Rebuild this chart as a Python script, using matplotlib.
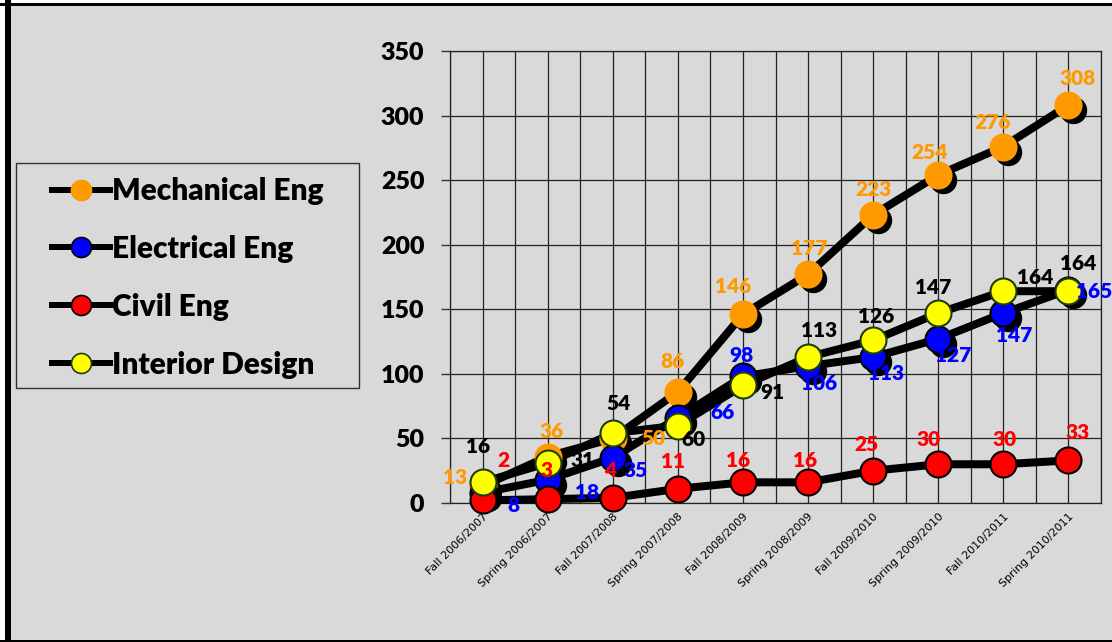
import numpy as np
import matplotlib
matplotlib.use("Agg")
import matplotlib.pyplot as plt
from matplotlib.lines import Line2D
from matplotlib.patches import Rectangle
from matplotlib import transforms

plt.rcParams['font.family'] = ['Lato', 'DejaVu Sans']

terms = ['Fall 2006/2007', 'Spring 2006/2007', 'Fall 2007/2008', 'Spring 2007/2008',
         'Fall 2008/2009', 'Spring 2008/2009', 'Fall 2009/2010', 'Spring 2009/2010',
         'Fall 2010/2011', 'Spring 2010/2011']
mechanical = [13, 36, 50, 86, 146, 177, 223, 254, 276, 308]
electrical = [8, 18, 35, 66, 98, 106, 113, 127, 147, 165]
civil = [2, 3, 4, 11, 16, 16, 25, 30, 30, 33]
interior = [16, 31, 54, 60, 91, 113, 126, 147, 164, 164]
names = ['Mechanical Eng', 'Electrical Eng', 'Civil Eng', 'Interior Design']
yticks = [0, 50, 100, 150, 200, 250, 300, 350]

# label offsets in pixels (dx right, dy up) from each point
mech_off = [(-27, 9), (4, 25), (41, 0), (-5, 30), (-10, 28), (1, 26), (0, 26), (-9, 22), (-11, 24), (9, 27)]
elec_off = [(31, -13), (39, -13), (23, -13), (45, 5), (-1, 21), (11, -17), (13, -16), (15, -17), (11, -22), (26, -2)]
civil_off = [(21, 40), (-1, 29), (-3, 27), (-5, 27), (-5, 22), (-3, 22), (-7, 26), (-10, 25), (1, 25), (9, 28)]
int_off = [(-4, 36), (35, 2), (6, 30), (16, -14), (29, -7), (11, 27), (3, 24), (-5, 26), (32, 14), (10, 28)]

W, H = 1112, 642
bg = '#d9d9d9'
heavy = 'heavy'
fig = plt.figure(figsize=(W / 100, H / 100), dpi=100, facecolor='white')

# grey panel with thick black frame
fig.patches.append(Rectangle((8 / W, 1 - 640 / H), 1.1, (640 - 3) / H, transform=fig.transFigure,
                             facecolor=bg, edgecolor='none', zorder=-5))
fig.add_artist(Line2D([8 / W, 8 / W], [0, 1], transform=fig.transFigure, color='k', lw=6 * 0.72))
fig.add_artist(Line2D([0, 1], [1 - 3.5 / H, 1 - 3.5 / H], transform=fig.transFigure, color='k', lw=3 * 0.72))
fig.add_artist(Line2D([0, 1], [1 - 640.5 / H, 1 - 640.5 / H], transform=fig.transFigure, color='k', lw=3 * 0.72))

ax = fig.add_axes([450 / W, (H - 503) / H, (1101 - 450) / W, (503 - 51) / H])
ax.set_facecolor(bg)

x = np.arange(len(terms))
series = [
    (mechanical, '#ff9900', '#ff9900', '#ff9900', mech_off, True),
    (electrical, '#0000ff', 'black', '#0000ff', elec_off, True),
    (civil, '#ff0000', 'black', '#ff0000', civil_off, False),
    (interior, '#ffff00', '#1e3d0a', 'black', int_off, False),
]

shadow_tr = transforms.offset_copy(ax.transData, fig=fig, x=5, y=-5, units='dots')
ms = 26 * 0.72

for vals, fc, ec, tc, offs, shadow in series:
    ax.plot(x, vals, color='black', lw=8 * 0.72, solid_capstyle='round',
            solid_joinstyle='round', zorder=3, clip_on=False)

for i, (vals, fc, ec, tc, offs, shadow) in enumerate(series):
    if shadow:
        ax.plot(x, vals, ls='none', marker='o', ms=ms, mfc='black', mec='black',
                transform=shadow_tr, zorder=4 + i, clip_on=False)
    ax.plot(x, vals, ls='none', marker='o', ms=ms, mfc=fc, mec=ec, mew=1.5,
            zorder=4.5 + i, clip_on=False)
    for xi, v, (dx, dy) in zip(x, vals, offs):
        ax.annotate(str(v), (xi, v), xytext=(dx, dy), textcoords='offset pixels',
                    ha='center', va='center', fontsize=15, fontweight=heavy,
                    color=tc, zorder=20, annotation_clip=False)

ax.set_xlim(-0.5, len(terms) - 0.5)
ax.set_ylim(0, 350)
ax.set_yticks(yticks, labels=[str(t) for t in yticks], fontsize=18, fontweight=heavy)
ax.set_xticks(x, labels=terms, rotation=45, ha='right', va='top', rotation_mode='anchor',
              fontsize=8, family='DejaVu Sans')
ax.set_xticks(np.arange(-0.5, len(terms), 1), minor=True)
shift = transforms.ScaledTranslation(12 / 100, 0, fig.dpi_scale_trans)
for lab in ax.get_xticklabels():
    lab.set_transform(lab.get_transform() + shift)
ax.tick_params(axis='x', which='both', length=0, pad=6)
ax.tick_params(axis='y', length=6.5, width=1, color='#333333', pad=12)

ax.grid(True, axis='x', which='both', color='#222222', lw=0.9)
ax.grid(True, axis='y', which='major', color='#222222', lw=0.9)
ax.set_axisbelow(True)
for s in ax.spines.values():
    s.set_color('#222222')
    s.set_linewidth(0.9)

# legend
handles = []
for vals, fc, ec, tc, offs, shadow in series:
    handles.append(Line2D([], [], color='black', lw=6 * 0.72, marker='o', ms=20 * 0.72,
                          mfc=fc, mec=ec, mew=1.2))
fig.legend(handles, names, loc='upper left', bbox_to_anchor=(52 / W, 1 - 177 / H),
           frameon=False, prop={'size': 21.5, 'weight': heavy}, handlelength=1.94,
           handletextpad=0.08, labelspacing=1.0, borderpad=0, borderaxespad=0)
fig.patches.append(Rectangle((16 / W, 1 - 388 / H), (359 - 16) / W, (388 - 163) / H,
                             transform=fig.transFigure, fill=False, edgecolor='#333333', lw=1))

fig.savefig('out.png', dpi=100, facecolor='white')
